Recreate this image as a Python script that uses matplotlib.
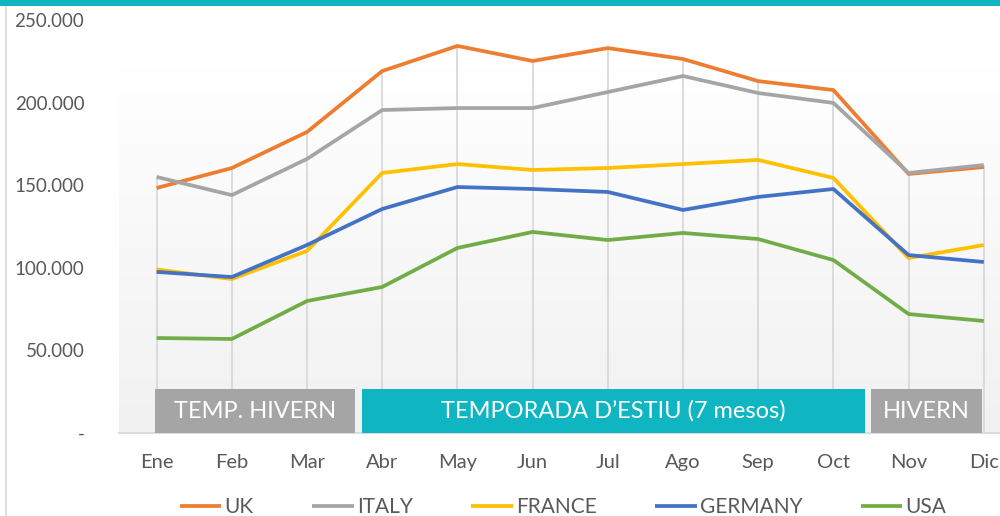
import numpy as np
import matplotlib
matplotlib.use("Agg")
import matplotlib.pyplot as plt
from matplotlib.patches import Rectangle
from matplotlib.lines import Line2D
from matplotlib.ticker import FuncFormatter

plt.rcParams['font.family'] = ['Lato', 'DejaVu Sans']

months = ["Ene", "Feb", "Mar", "Abr", "May", "Jun", "Jul", "Ago", "Sep", "Oct", "Nov", "Dic"]
series_names = ["UK", "ITALY", "FRANCE", "GERMANY", "USA"]
uk      = [148300, 160400, 182200, 219100, 234300, 225200, 233000, 226400, 213000, 207600, 156800, 161000]
italy   = [155000, 144000, 165900, 195500, 196700, 196700, 206400, 216100, 205800, 199800, 157400, 162200]
france  = [99000, 93200, 110200, 157400, 162800, 159200, 160400, 162800, 165300, 154400, 105900, 113800]
germany = [97500, 94400, 113800, 135600, 148900, 147700, 145900, 135000, 142900, 147700, 107700, 103500]
usa     = [57500, 56900, 79900, 88400, 112000, 121700, 116800, 121100, 117400, 104700, 72000, 67800]
season_labels = ["TEMP. HIVERN", "TEMPORADA D\u2019ESTIU (7 mesos)", "HIVERN"]

colors = ["#ED7D31", "#A5A5A5", "#FFC000", "#4472C4", "#70AD47"]
W, H = 1000, 516

fig = plt.figure(figsize=(10, 5.16), dpi=100)
fig.patch.set_facecolor("white")

# axes placement (pixels)
ax_l, ax_r, ax_b, ax_t = 119, 1000, 433, 20
ax = fig.add_axes([ax_l / W, 1 - ax_b / H, (ax_r - ax_l) / W, (ax_b - ax_t) / H])
ax.set_facecolor("none")
ax.patch.set_alpha(0)

x = np.arange(len(months))
cat_w = 75.2
ax.set_xlim(-0.5, (ax_r - ax_l) / cat_w - 0.5)
ax.set_ylim(0, 250000)

# gradient background (plot area)
grad_top = (ax_b - 66) / (ax_b - ax_t)
g = np.linspace(0, 1, 256).reshape(-1, 1)
top_c = np.array([1.0, 1.0, 1.0])
bot_c = np.array([0xF1, 0xF1, 0xF1]) / 255
img = top_c * (1 - g[..., None]) + bot_c * g[..., None]
img = img.reshape(256, 1, 3)
ax.imshow(img, extent=[0, 1, 0, grad_top], transform=ax.transAxes, aspect='auto', zorder=0,
          interpolation='bilinear')

data = [uk, italy, france, germany, usa]
maxv = np.max(np.array(data), axis=0)
ax.vlines(x, 0, maxv, colors="#D9D9D9", lw=1.3, zorder=1)

for name, vals, c in zip(series_names, data, colors):
    ax.plot(x, vals, color=c, lw=2.7, label=name, zorder=3, solid_capstyle='butt')

# bottom axis line
for s in ["top", "right", "left"]:
    ax.spines[s].set_visible(False)
ax.spines["bottom"].set_color("#D9D9D9")
ax.spines["bottom"].set_linewidth(1.3)
ax.spines["bottom"].set_zorder(4)

ax.set_xticks(x)
ax.set_xticklabels(months)
ax.set_yticks(np.arange(0, 250001, 50000))
ax.yaxis.set_major_formatter(FuncFormatter(lambda v, p: "-" if v == 0 else f"{int(v):,}".replace(",", ".")))
ax.tick_params(axis='both', length=0, labelcolor="#595959")
ax.tick_params(axis='y', pad=25, labelsize=13.5)
ax.tick_params(axis='x', pad=15, labelsize=14.5)

# season boxes (pixel positions)
def px_box(x0, x1, y0, y1, color, text, fs):
    r = Rectangle((x0 / W, 1 - y1 / H), (x1 - x0) / W, (y1 - y0) / H, transform=fig.transFigure,
                  facecolor=color, edgecolor="none", zorder=5)
    fig.patches.append(r)
    fig.text((x0 + x1) / 2 / W, 1 - (y0 + y1) / 2 / H, text, color="white", fontsize=fs,
             ha="center", va="center", zorder=6)

px_box(155, 355, 389, 433, "#A5A5A5", season_labels[0], 17)
px_box(362, 865, 389, 433, "#10B5C2", season_labels[1], 17)
px_box(871, 982, 389, 433, "#A5A5A5", season_labels[2], 17)

# top band and left border
fig.patches.append(Rectangle((0, 1 - 6 / H), 1, 6 / H, transform=fig.transFigure,
                             facecolor="#10B5C2", edgecolor="none", zorder=10))
fig.lines.append(Line2D([5.5 / W, 5.5 / W], [0, 1 - 6 / H], transform=fig.transFigure,
                        color="#D9D9D9", lw=1.2))

leg = fig.legend(loc="center", bbox_to_anchor=(563 / W, 1 - 507 / H), ncol=5, frameon=False,
                 fontsize=15, handlelength=2.0, handletextpad=0.15, columnspacing=2.8,
                 labelcolor="#595959")

fig.savefig("out.png", dpi=100, facecolor="white")
